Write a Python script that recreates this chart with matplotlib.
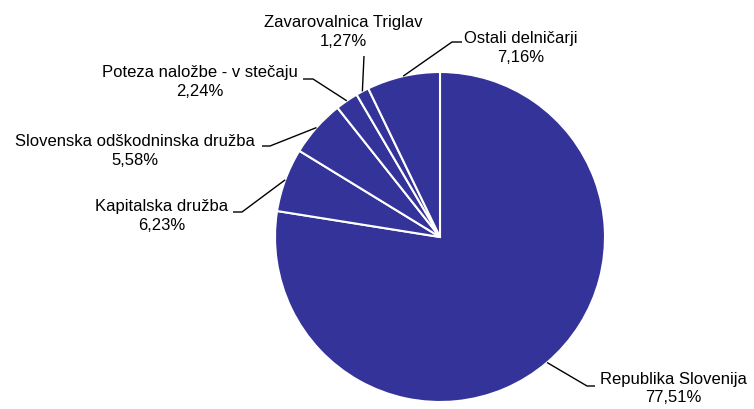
import matplotlib
matplotlib.use('Agg')
import matplotlib.pyplot as plt
import numpy as np

labels = ['Republika Slovenija', 'Kapitalska družba', 'Slovenska odškodninska družba',
          'Poteza naložbe - v stečaju', 'Zavarovalnica Triglav', 'Ostali delničarji']
values = [77.51, 6.23, 5.58, 2.24, 1.27, 7.16]
pct_labels = ['77,51%', '6,23%', '5,58%', '2,24%', '1,27%', '7,16%']

W, H = 754, 410
fig = plt.figure(figsize=(W / 100, H / 100), dpi=100)
ax = fig.add_axes([0, 0, 1, 1])

cx, cy, r = 440, H - 238, 165
wedges, _ = ax.pie(values, startangle=90, counterclock=False,
                   colors=['#333399'] * len(values), center=(cx, cy), radius=r,
                   wedgeprops=dict(edgecolor='white', linewidth=1.5), frame=True)
ax.set_xlim(0, W)
ax.set_ylim(0, H)
ax.set_aspect('auto')
ax.axis('off')

# layout (pixel coords from top): line1 center (x, y), line2 y, leader path points
layout = [
    dict(x=673, y1=380, y2=398, path=[(587, 387), (595, 387)]),
    dict(x=162, y1=207, y2=226, path=[(242, 213), (233, 213)]),
    dict(x=135, y1=142, y2=161, path=[(270, 147), (262, 147)]),
    dict(x=200, y1=73, y2=92, path=[(313, 80), (303, 80)]),
    dict(x=343, y1=22, y2=41, path=[(364, 57)]),
    dict(x=521, y1=38, y2=57, path=[(452, 43), (462, 43)]),
]

fs = 12
fam = ['Liberation Sans', 'DejaVu Sans']
for w, lab, pct, lay in zip(wedges, labels, pct_labels, layout):
    th = np.deg2rad((w.theta1 + w.theta2) / 2)
    sx, sy = cx + r * np.cos(th), cy + r * np.sin(th)
    xs = [sx] + [p[0] for p in lay['path']]
    ys = [sy] + [H - p[1] for p in lay['path']]
    ax.plot(xs, ys, color='black', lw=1.0, solid_capstyle='butt')
    ax.text(lay['x'], H - lay['y1'], lab, ha='center', va='center', fontsize=fs, family=fam)
    ax.text(lay['x'], H - lay['y2'], pct, ha='center', va='center', fontsize=fs, family=fam)

fig.savefig('out.png', dpi=100, facecolor='white')
